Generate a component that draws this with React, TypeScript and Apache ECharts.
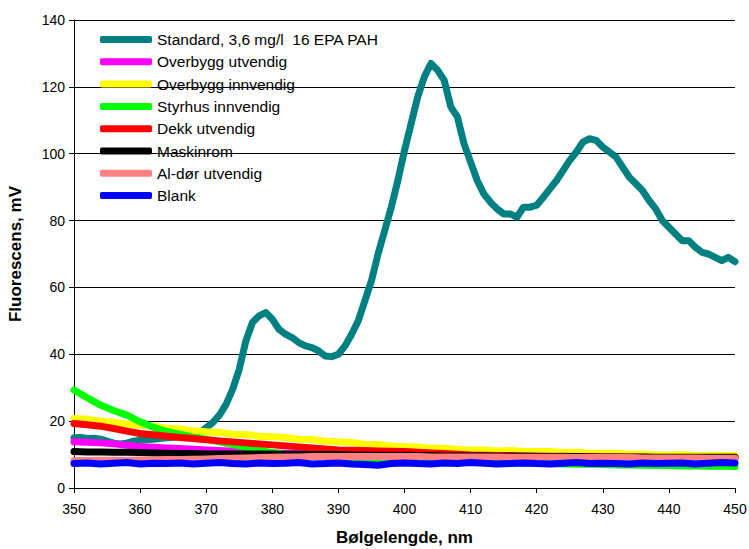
import React, { useEffect, useRef } from "react";
import * as echarts from "echarts";

// Wavelength grids (nm)
const wl1: number[] = Array.from({ length: 101 }, (_, i) => 350 + i);
const wl2: number[] = Array.from({ length: 51 }, (_, i) => 350 + 2 * i);

const seriesNames = [
  "Standard, 3,6 mg/l  16 EPA PAH",
  "Overbygg utvendig",
  "Overbygg innvendig",
  "Styrhus innvendig",
  "Dekk utvendig",
  "Maskinrom",
  "Al-dør utvendig",
  "Blank",
];

const colors = ["#008080", "#FF00FF", "#FFFF00", "#00FF00", "#FF0000", "#000000", "#FF8080", "#0000FF"];

// 1 nm step
const standard = [
  15, 15.1, 14.8, 14.9, 14.6, 14, 13.4, 13.2, 13.4, 14,
  14.3, 14.5, 14.6, 14.8, 15, 15.2, 15.4, 15.6, 16, 16.4,
  18, 19.6, 21.8, 25, 29.5, 35.5, 44, 49.5, 51.5, 52.5,
  50.5, 47.5, 46, 45, 43.5, 42.5, 42, 41, 39.5, 39.3,
  40, 42.5, 46, 50, 56, 62, 70, 77, 84, 92,
  101, 109, 117, 123, 127, 125, 122, 114, 111, 103,
  97.5, 92, 88, 85.5, 83.5, 82, 82, 81, 84, 84,
  84.6, 87, 89.5, 92, 95, 98, 100.5, 103.5, 104.5, 104,
  102, 100.5, 99, 96, 93, 91, 89, 86, 83.5, 80,
  78, 76, 74, 74, 72, 70.5, 70, 69, 68, 69,
  67.7,
];

// 2 nm step
const overbyggUt = [
  13.8, 13.7, 13.5, 13.2, 12.8, 12.4, 12.2, 12, 11.8, 11.6,
  11.4, 11.2, 11, 10.8, 10.6, 10.5, 10.4, 10.3, 10.2, 10.1,
  10, 9.9, 9.9, 9.8, 9.8, 9.7, 9.7, 9.6, 9.6, 9.6,
  9.5, 9.5, 9.5, 9.4, 9.4, 9.4, 9.4, 9.3, 9.3, 9.3,
  9.3, 9.2, 9.2, 9.2, 9.2, 9.1, 9.1, 9.1, 9.1, 9.1,
  9,
];
const overbyggInn = [
  20.8, 20.6, 20, 19.7, 19.1, 18.8, 18.5, 17.9, 17.7, 17.1,
  16.8, 16.6, 16.1, 16, 15.5, 15.3, 15.1, 14.6, 14.5, 14,
  13.8, 13.6, 13.1, 13, 12.6, 12.4, 12.3, 11.9, 11.9, 11.5,
  11.4, 11.4, 11.1, 11.2, 10.9, 10.9, 10.9, 10.6, 10.7, 10.4,
  10.4, 10.4, 10.1, 10.2, 9.9, 9.9, 10, 9.7, 9.8, 9.7,
  9.7,
];
const styrhus = [
  29.3, 27, 24.8, 23.2, 21.8, 19.8, 18.2, 16.9, 16.1, 15.3,
  14.6, 13.8, 13, 12.2, 11.4, 10.6, 10.1, 9.8, 9.5, 9.3,
  9.1, 8.9, 8.7, 8.5, 8.4, 8.3, 8.2, 8.1, 8, 7.9,
  7.8, 7.7, 7.6, 7.5, 7.4, 7.4, 7.3, 7.2, 7.1, 7.1,
  7, 6.9, 6.9, 6.8, 6.7, 6.7, 6.6, 6.6, 6.5, 6.5,
  6.4,
];
const dekk = [
  19.3, 18.9, 18.5, 17.8, 17, 16.3, 15.9, 15.5, 15.1, 14.8,
  14.4, 14.1, 13.8, 13.5, 13.2, 12.9, 12.6, 12.3, 12, 11.7,
  11.4, 11.3, 11.2, 11.1, 11, 10.9, 10.7, 10.5, 10.3, 10.1,
  9.9, 9.8, 9.7, 9.7, 9.6, 9.6, 9.5, 9.5, 9.4, 9.4,
  9.3, 9.3, 9.2, 9.2, 9.1, 9.1, 9.1, 9, 9, 9,
  9,
];
const maskinrom = [
  10.9, 10.8, 10.8, 10.7, 10.7, 10.6, 10.5, 10.4, 10.3, 10.3,
  10.2, 10.2, 10.2, 10.2, 10.2, 10.2, 10.1, 10.1, 10, 10,
  10, 9.9, 9.9, 9.8, 9.8, 9.8, 9.7, 9.7, 9.6, 9.6,
  9.6, 9.6, 9.5, 9.5, 9.5, 9.4, 9.4, 9.4, 9.4, 9.3,
  9.3, 9.3, 9.3, 9.3, 9.2, 9.2, 9.2, 9.2, 9.2, 9.2,
  9.2,
];
const alDor = [
  8.2, 8.2, 8.3, 8.3, 8.3, 8.4, 8.4, 8.5, 8.5, 8.6,
  8.7, 8.8, 8.9, 9, 9.1, 9.2, 9.3, 9.3, 9.4, 9.4,
  9.4, 9.4, 9.4, 9.4, 9.4, 9.4, 9.4, 9.3, 9.3, 9.3,
  9.3, 9.3, 9.3, 9.2, 9.2, 9.2, 9.2, 9.2, 9.1, 9.1,
  9.1, 9.1, 9.1, 9, 9, 9, 9, 9, 8.9, 8.9,
  8.9,
];
const blank = [
  7.3, 7.5, 7.2, 7.4, 7.6, 7.2, 7.4, 7.3, 7.5, 7.2,
  7.4, 7.6, 7.3, 7.2, 7.5, 7.3, 7.4, 7.6, 7.2, 7.3,
  7.5, 7.2, 7.0, 6.8, 7.3, 7.5, 7.3, 7.2, 7.5, 7.3,
  7.6, 7.4, 7.2, 7.3, 7.5, 7.3, 7.2, 7.4, 7.6, 7.3,
  7.4, 7.3, 7.2, 7.5, 7.3, 7.4, 7.5, 7.2, 7.4, 7.6,
  7.5,
];

const yTicks = { min: 0, max: 140, interval: 20 };
const xTicks = { min: 350, max: 450, interval: 10 };

const FONT = "'Liberation Sans', Arial, sans-serif";

export default function App() {
  const ref = useRef<HTMLDivElement>(null);
  useEffect(() => {
    if (!ref.current) return;
    const chart = echarts.init(ref.current, undefined, { renderer: "svg" });
    const all = [standard, overbyggUt, overbyggInn, styrhus, dekk, maskinrom, alDor, blank];
    const series = all.map((vals, k) => {
      const xs = k === 0 ? wl1 : wl2;
      return {
        name: seriesNames[k],
        type: "line",
        data: vals.map((v, i) => [xs[i], v]),
        showSymbol: false,
        symbol: "none",
        lineStyle: { width: 7, color: colors[k], cap: "round", join: "round" },
        itemStyle: { color: colors[k] },
      };
    });
    chart.setOption({
      animation: false,
      backgroundColor: "#fff",
      textStyle: { fontFamily: FONT },
      grid: { left: 74, right: 14, top: 20, bottom: 61, containLabel: false, outerBoundsMode: "none" },
      legend: {
        orient: "vertical",
        left: 100,
        top: 31,
        padding: 0,
        icon: "roundRect",
        itemWidth: 52,
        itemHeight: 7,
        itemGap: 5.3,
        textStyle: { fontSize: 15.5, color: "#000", fontFamily: FONT, lineHeight: 17 },
        data: seriesNames,
      },
      xAxis: {
        type: "value",
        min: xTicks.min,
        max: xTicks.max,
        interval: xTicks.interval,
        name: "Bølgelengde, nm",
        nameLocation: "middle",
        nameGap: 41,
        nameTextStyle: { fontSize: 17, fontWeight: "bold", color: "#000", fontFamily: FONT },
        axisLine: { show: true, lineStyle: { color: "#000", width: 1 } },
        axisTick: { show: true, length: 5, lineStyle: { color: "#000" } },
        axisLabel: { fontSize: 14, color: "#000", margin: 14, fontFamily: FONT },
        splitLine: { show: false },
      },
      yAxis: {
        type: "value",
        min: yTicks.min,
        max: yTicks.max,
        interval: yTicks.interval,
        name: "Fluorescens, mV",
        nameLocation: "middle",
        nameGap: 50,
        nameRotate: 90,
        nameTextStyle: { fontSize: 17, fontWeight: "bold", color: "#000", fontFamily: FONT },
        axisLine: { show: true, lineStyle: { color: "#000", width: 1 } },
        axisTick: { show: true, length: 5, lineStyle: { color: "#000" } },
        axisLabel: { fontSize: 14, color: "#000", margin: 9, fontFamily: FONT },
        splitLine: { show: true, lineStyle: { color: "#000", width: 1 } },
      },
      series,
    });
    return () => chart.dispose();
  }, []);
  return (
    <div
      ref={ref}
      style={{ position: "fixed", left: 0, top: 0, width: 749, height: 549, background: "#fff" }}
    />
  );
}
